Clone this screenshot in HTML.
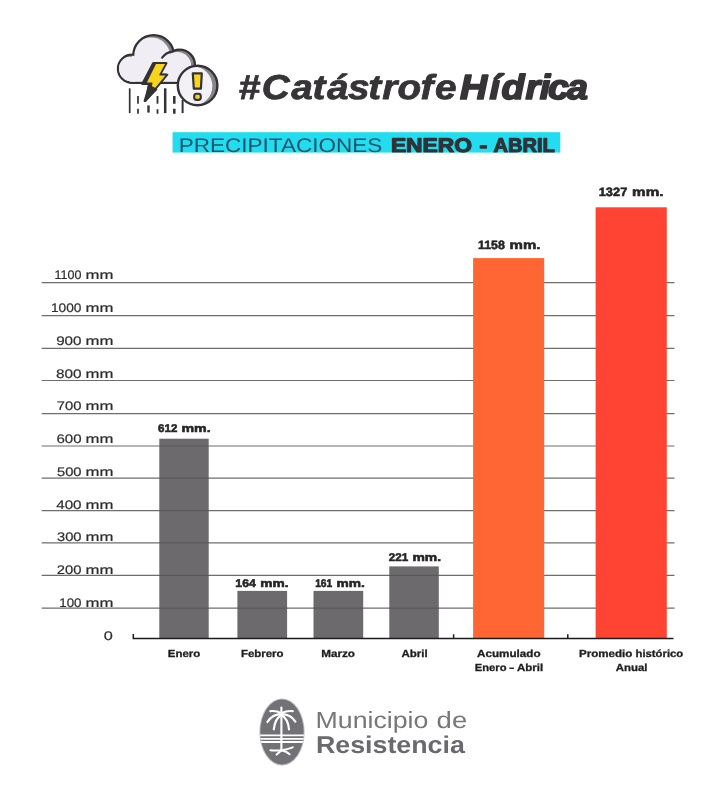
<!DOCTYPE html>
<html lang="es">
<head>
<meta charset="utf-8">
<title>Catástrofe Hídrica - Precipitaciones Enero - Abril</title>
<style>
  html, body { margin: 0; padding: 0; background: #ffffff; }
  body { width: 725px; height: 810px; overflow: hidden; }
  svg { display: block; }
  text { font-family: "Liberation Sans", sans-serif; text-rendering: geometricPrecision; }
  .ylab { font-size: 12.5px; fill: #2e2e2e; stroke: #2e2e2e; stroke-width: 0.2; text-anchor: start; }
  .val  { font-size: 11.2px; font-weight: bold; fill: #262626; stroke: #262626; stroke-width: 0.55; text-anchor: start; }
  .valb { font-size: 12.1px; font-weight: bold; fill: #262626; stroke: #262626; stroke-width: 0.55; text-anchor: start; }
  .xlab { font-size: 10.3px; font-weight: bold; fill: #1e1e1e; stroke: #1e1e1e; stroke-width: 0.3; text-anchor: start; }
  .grid line { stroke: #6e6e6e; stroke-width: 1.2; }
</style>
</head>
<body>
<svg width="725" height="810" viewBox="0 0 725 810">
  <rect x="0" y="0" width="725" height="810" fill="#ffffff"/>

  <!-- ===== Header icon ===== -->
  <g id="icon">
    <defs>
      <clipPath id="exclClip"><circle cx="197.6" cy="85.5" r="19.8"/></clipPath>
      <clipPath id="cloudClip">
        <circle cx="132.1" cy="68.7" r="13.0"/>
        <circle cx="153.6" cy="55.5" r="19.2"/>
        <circle cx="179.6" cy="65" r="14.2"/>
        <rect x="132" y="62" width="50" height="19.7"/>
      </clipPath>
    </defs>
    <!-- rain -->
    <g stroke="#333234" fill="none" stroke-linecap="butt">
      <path d="M129.7 88.3 V113.1" stroke-width="1.7"/>
      <path d="M138 96 V103.7 M138 108.7 V113.7" stroke-width="1.7"/>
      <path d="M148.5 105.4 V112.6" stroke-width="2.4"/>
      <path d="M157.5 96 V103.7 M157.5 109.2 V113.7" stroke-width="1.8"/>
      <path d="M165.2 88.3 V113.1" stroke-width="2.5"/>
      <path d="M174.3 96 V103.7 M174.3 108.7 V113.7" stroke-width="2.5"/>
      <path d="M182.6 100 V113.1" stroke-width="2"/>
    </g>
    <!-- cloud outline -->
    <g fill="#333234" stroke="#333234" stroke-width="2.3" stroke-linejoin="round">
      <circle cx="132.1" cy="68.7" r="14.1"/>
      <circle cx="153.6" cy="55.5" r="20.3"/>
      <circle cx="179.6" cy="65" r="15.3"/>
      <rect x="132" y="62" width="50" height="20.8"/>
    </g>
    <!-- cloud inner shadow + fill -->
    <g clip-path="url(#cloudClip)">
      <rect x="110" y="30" width="100" height="60" fill="#87858a"/>
      <g fill="#f1edf4" transform="translate(-2.6,1.1)">
        <circle cx="132.1" cy="68.7" r="13.0"/>
        <circle cx="153.6" cy="55.5" r="19.2"/>
        <circle cx="179.6" cy="65" r="14.2"/>
        <rect x="120" y="62" width="62" height="26"/>
      </g>
    </g>
    <!-- right lobe inner arc -->
    <path d="M162.2 57.6 A15.3 15.3 0 0 1 172 51.7" fill="none" stroke="#333234" stroke-width="2.2" stroke-linecap="round"/>
    <!-- lightning -->
    <path d="M153.2 62.9 L165.6 62.9 L158.8 74.6 L166 74.6 L144.6 101 L149.6 84 L142.2 84 Z" fill="#333234" stroke="#333234" stroke-width="2" stroke-linejoin="round"/>
    <path d="M155.4 63.1 L166.6 63.1 L160.3 74.6 L167.4 74.6 L145.6 100.8 L151.6 83.4 L145.4 83.4 Z" fill="#f8d51c" stroke="#333234" stroke-width="1.9" stroke-linejoin="round"/>
    <path d="M148.4 85.2 L156.6 89.4 L145.6 100.8 Z" fill="#333234" stroke="#333234" stroke-width="1.4" stroke-linejoin="round"/>
    <!-- exclamation circle -->
    <circle cx="197.6" cy="85.5" r="19.8" fill="#87858a"/>
    <circle cx="192.6" cy="86.1" r="19.8" fill="#f4f1f6" clip-path="url(#exclClip)"/>
    <circle cx="197.6" cy="85.5" r="19.8" fill="none" stroke="#333234" stroke-width="2.4"/>
    <path d="M192.8 73.4 H201.8 L200.9 88.7 H193.8 Z" fill="#f8d51c" stroke="#333234" stroke-width="2.2" stroke-linejoin="round"/>
    <rect x="194.2" y="93.8" width="6.6" height="6.1" rx="2.4" fill="#f8d51c" stroke="#333234" stroke-width="2.1"/>
  </g>

  <!-- ===== Title ===== -->
  <g id="title">
    <text transform="scale(1.12,1)" x="213.04 233.61 260.01 279.05 292.06 310.67 328.81 341.23 354.9 375.39 388.43" y="98.7" font-size="34.6" font-weight="bold" font-style="italic" fill="#363436" stroke="#363436" stroke-width="0.8" stroke-linejoin="round">#Catástrofe</text>
    <text transform="scale(1.09,1)" x="422.04 448.97 460.03 482.15 495.15 502.76 520.11" y="98.7" font-size="34.6" font-weight="bold" font-style="italic" fill="#363436" stroke="#363436" stroke-width="1.7" stroke-linejoin="round">Hídrica</text>
  </g>

  <!-- ===== Subtitle banner ===== -->
  <g id="banner">
    <rect x="172.6" y="132.2" width="387.7" height="20.4" fill="#22ddf0"/>
    <text x="178.7" y="151.6" font-size="19.8" fill="#16526a" textLength="203.6" lengthAdjust="spacingAndGlyphs">PRECIPITACIONES</text>
    <text y="151.6" font-size="19.8" font-weight="bold" fill="#2f3338" stroke="#2f3338" stroke-width="1.2" stroke-linejoin="round"><tspan x="390.9" textLength="81.2" lengthAdjust="spacingAndGlyphs">ENERO</tspan><tspan x="473" textLength="5" lengthAdjust="spacingAndGlyphs"> </tspan><tspan x="479.6" textLength="7.8" lengthAdjust="spacingAndGlyphs">-</tspan><tspan x="488" textLength="4" lengthAdjust="spacingAndGlyphs"> </tspan><tspan x="493.4" textLength="61.4" lengthAdjust="spacingAndGlyphs">ABRIL</tspan></text>
  </g>

  <!-- ===== Grid ===== -->
  <g class="grid">
    <line x1="41.7" x2="674.5" y1="282.6" y2="282.6"/>
    <line x1="41.7" x2="674.5" y1="315.6" y2="315.6"/>
    <line x1="41.7" x2="674.5" y1="348.3" y2="348.3"/>
    <line x1="41.7" x2="674.5" y1="380.5" y2="380.5"/>
    <line x1="41.7" x2="674.5" y1="413.6" y2="413.6"/>
    <line x1="41.7" x2="674.5" y1="446.0" y2="446.0"/>
    <line x1="41.7" x2="674.5" y1="478.1" y2="478.1"/>
    <line x1="41.7" x2="674.5" y1="510.6" y2="510.6"/>
    <line x1="41.7" x2="674.5" y1="542.9" y2="542.9"/>
    <line x1="41.7" x2="674.5" y1="575.3" y2="575.3"/>
    <line x1="41.7" x2="674.5" y1="608.2" y2="608.2"/>
  </g>

  <!-- ===== Y labels ===== -->
  <g id="ylabels">
    <text class="ylab" y="279.4"><tspan x="54.5" textLength="26.98" lengthAdjust="spacingAndGlyphs">1100</tspan><tspan> </tspan><tspan x="85.53" textLength="27.88" lengthAdjust="spacingAndGlyphs">mm</tspan></text>
    <text class="ylab" y="312.1"><tspan x="51.01" textLength="30.44" lengthAdjust="spacingAndGlyphs">1000</tspan><tspan> </tspan><tspan x="85.53" textLength="27.88" lengthAdjust="spacingAndGlyphs">mm</tspan></text>
    <text class="ylab" y="344.6"><tspan x="56.17" textLength="25.38" lengthAdjust="spacingAndGlyphs">900</tspan><tspan> </tspan><tspan x="85.53" textLength="27.88" lengthAdjust="spacingAndGlyphs">mm</tspan></text>
    <text class="ylab" y="377.8"><tspan x="55.99" textLength="25.57" lengthAdjust="spacingAndGlyphs">800</tspan><tspan> </tspan><tspan x="85.53" textLength="27.88" lengthAdjust="spacingAndGlyphs">mm</tspan></text>
    <text class="ylab" y="410.2"><tspan x="56.89" textLength="24.65" lengthAdjust="spacingAndGlyphs">700</tspan><tspan> </tspan><tspan x="85.53" textLength="27.88" lengthAdjust="spacingAndGlyphs">mm</tspan></text>
    <text class="ylab" y="443.0"><tspan x="56.48" textLength="25.07" lengthAdjust="spacingAndGlyphs">600</tspan><tspan> </tspan><tspan x="85.53" textLength="27.88" lengthAdjust="spacingAndGlyphs">mm</tspan></text>
    <text class="ylab" y="475.8"><tspan x="57.01" textLength="24.52" lengthAdjust="spacingAndGlyphs">500</tspan><tspan> </tspan><tspan x="85.53" textLength="27.88" lengthAdjust="spacingAndGlyphs">mm</tspan></text>
    <text class="ylab" y="508.7"><tspan x="56.24" textLength="25.32" lengthAdjust="spacingAndGlyphs">400</tspan><tspan> </tspan><tspan x="85.53" textLength="27.88" lengthAdjust="spacingAndGlyphs">mm</tspan></text>
    <text class="ylab" y="541.4"><tspan x="57.01" textLength="24.52" lengthAdjust="spacingAndGlyphs">300</tspan><tspan> </tspan><tspan x="85.53" textLength="27.88" lengthAdjust="spacingAndGlyphs">mm</tspan></text>
    <text class="ylab" y="574.2"><tspan x="56.89" textLength="24.65" lengthAdjust="spacingAndGlyphs">200</tspan><tspan> </tspan><tspan x="85.53" textLength="27.88" lengthAdjust="spacingAndGlyphs">mm</tspan></text>
    <text class="ylab" y="607.0"><tspan x="59.23" textLength="22.25" lengthAdjust="spacingAndGlyphs">100</tspan><tspan> </tspan><tspan x="85.53" textLength="27.88" lengthAdjust="spacingAndGlyphs">mm</tspan></text>
    <text class="ylab" y="640.0"><tspan x="103.85" textLength="9.04" lengthAdjust="spacingAndGlyphs">0</tspan></text>
  </g>

  <!-- ===== Bars ===== -->
  <g id="bars">
    <rect x="159.3" y="438.7" width="49.4" height="199.8" fill="#565456" fill-opacity="0.87"/>
    <rect x="237.4" y="590.9" width="49.7" height="47.6" fill="#565456" fill-opacity="0.87"/>
    <rect x="313.5" y="590.9" width="49.7" height="47.6" fill="#565456" fill-opacity="0.87"/>
    <rect x="389.3" y="566.4" width="49.5" height="72.1" fill="#565456" fill-opacity="0.87"/>
    <rect x="473.1" y="258.1" width="71.1" height="380.4" fill="#ff6633"/>
    <rect x="595.6" y="207.3" width="71.2" height="431.2" fill="#ff4433"/>
  </g>

  <!-- ===== Axis ===== -->
  <g id="axis" stroke="#1c1c1c" stroke-width="1.5" fill="none">
    <path d="M133.3 634.1 V638.5 H673.5"/>
    <path d="M453.6 634.3 V638.5"/>
    <path d="M567.8 634.3 V638.5"/>
  </g>

  <!-- ===== Value labels ===== -->
  <g id="values">
    <text class="val" y="431.8"><tspan x="158.06" textLength="19.27" lengthAdjust="spacingAndGlyphs">612</tspan><tspan> </tspan><tspan x="181.48" textLength="29.2" lengthAdjust="spacingAndGlyphs">mm.</tspan></text>
    <text class="val" y="586.9"><tspan x="235.3" textLength="20.52" lengthAdjust="spacingAndGlyphs">164</tspan><tspan> </tspan><tspan x="260.31" textLength="28.34" lengthAdjust="spacingAndGlyphs">mm.</tspan></text>
    <text class="val" y="586.9"><tspan x="315.13" textLength="17.17" lengthAdjust="spacingAndGlyphs">161</tspan><tspan> </tspan><tspan x="336.61" textLength="28.34" lengthAdjust="spacingAndGlyphs">mm.</tspan></text>
    <text class="val" y="561.3"><tspan x="388.75" textLength="19.48" lengthAdjust="spacingAndGlyphs">221</tspan><tspan> </tspan><tspan x="412.4" textLength="28.67" lengthAdjust="spacingAndGlyphs">mm.</tspan></text>
    <text class="valb" y="249.1"><tspan x="478.05" textLength="26.84" lengthAdjust="spacingAndGlyphs">1158</tspan><tspan> </tspan><tspan x="509.57" textLength="30.95" lengthAdjust="spacingAndGlyphs">mm.</tspan></text>
    <text class="valb" y="195.9"><tspan x="598.72" textLength="28.56" lengthAdjust="spacingAndGlyphs">1327</tspan><tspan> </tspan><tspan x="632.06" textLength="31.49" lengthAdjust="spacingAndGlyphs">mm.</tspan></text>
  </g>

  <!-- ===== X labels ===== -->
  <g id="xlabels">
    <text class="xlab" y="656.9"><tspan x="167.87" textLength="32.41" lengthAdjust="spacingAndGlyphs">Enero</tspan></text>
    <text class="xlab" y="656.8"><tspan x="240.97" textLength="42.56" lengthAdjust="spacingAndGlyphs">Febrero</tspan></text>
    <text class="xlab" y="656.8"><tspan x="321.15" textLength="33.8" lengthAdjust="spacingAndGlyphs">Marzo</tspan></text>
    <text class="xlab" y="656.8"><tspan x="401.41" textLength="26.29" lengthAdjust="spacingAndGlyphs">Abril</tspan></text>
    <text class="xlab" y="656.8"><tspan x="477.01" textLength="63.57" lengthAdjust="spacingAndGlyphs">Acumulado</tspan></text>
    <text class="xlab" y="670.8"><tspan x="474.79" textLength="31.68" lengthAdjust="spacingAndGlyphs">Enero</tspan><tspan> </tspan><tspan x="508.92" textLength="5.41" lengthAdjust="spacingAndGlyphs">-</tspan><tspan> </tspan><tspan x="517.02" textLength="26.18" lengthAdjust="spacingAndGlyphs">Abril</tspan></text>
    <text class="xlab" y="656.9"><tspan x="578.96" textLength="53.44" lengthAdjust="spacingAndGlyphs">Promedio</tspan><tspan> </tspan><tspan x="635.58" textLength="47.6" lengthAdjust="spacingAndGlyphs">histórico</tspan></text>
    <text class="xlab" y="670.8"><tspan x="615.72" textLength="31.72" lengthAdjust="spacingAndGlyphs">Anual</tspan></text>
  </g>

  <!-- ===== Footer logo ===== -->
  <g id="logo">
    <defs>
      <clipPath id="ovalClip"><ellipse cx="282" cy="732" rx="22" ry="33"/></clipPath>
    </defs>
    <ellipse cx="282" cy="732" rx="22.6" ry="33.6" fill="#b9b8bc"/>
    <ellipse cx="282" cy="732" rx="21.6" ry="32.6" fill="#727176"/>
    <g clip-path="url(#ovalClip)" stroke="#ffffff" fill="none" stroke-linecap="round">
      <path d="M258 735.4 H306 M258 738.8 H306 M258 742 H306" stroke-width="1.8" stroke-linecap="butt"/>
      <path d="M281.4 707.6 V750.4" stroke-width="2.1"/>
      <!-- fronds -->
      <path d="M281.4 713.2 Q276 710.4 270.3 711.2" stroke-width="2.2"/>
      <path d="M281.4 713.2 Q287 710.4 292.8 711.2" stroke-width="2.2"/>
      <path d="M281.4 714.2 Q272.5 714.2 267.4 722" stroke-width="2.2"/>
      <path d="M281.4 714.2 Q290.5 714.2 295.4 721.6" stroke-width="2.2"/>
      <path d="M281.4 715 Q275 718.5 273.8 729.4" stroke-width="2.2"/>
      <path d="M281.4 715 Q288 718.5 289 729.4" stroke-width="2.2"/>
      <!-- roots -->
      <path d="M281.4 750.2 Q276 750.6 270.4 750.2" stroke-width="2"/>
      <path d="M281.4 750.2 Q279 752.5 276.6 754.6" stroke-width="2"/>
      <path d="M281.4 750.2 Q287.5 749.6 292.8 747.4" stroke-width="2"/>
      <path d="M281.4 750.2 Q286.5 751.2 289.6 754.2" stroke-width="2"/>
    </g>
    <text y="727.6" font-size="23.4" fill="#77767b"><tspan x="315.53" textLength="112.86" lengthAdjust="spacingAndGlyphs">Municipio</tspan><tspan> </tspan><tspan x="436.62" textLength="30.58" lengthAdjust="spacingAndGlyphs">de</tspan></text>
    <text y="752.8" font-size="24.3" font-weight="bold" fill="#6a696e"><tspan x="315.94" textLength="148.91" lengthAdjust="spacingAndGlyphs">Resistencia</tspan></text>
  </g>
</svg>
</body>
</html>
